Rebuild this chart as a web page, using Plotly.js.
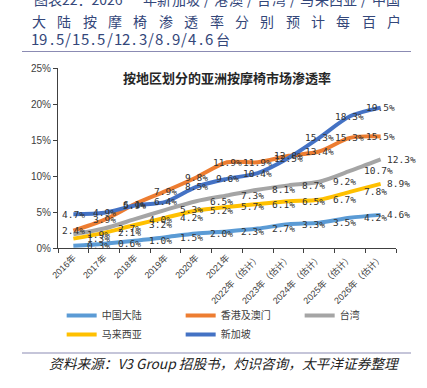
<!DOCTYPE html>
<html>
<head>
<meta charset="utf-8">
<script src="https://cdn.plot.ly/plotly-3.0.1.min.js"></script>
<style>html,body{margin:0;padding:0;background:#fff;}#chart{width:427px;height:388px;}</style>
</head>
<body>
<div id="chart"></div>
<script>
// ---- data ----
const categories = ['2016年','2017年','2018年','2019年','2020年','2021年',
  '2022年（估计）','2023年（估计）','2024年（估计）','2025年（估计）','2026年（估计）'];
const seriesNames = ['中国大陆','香港及澳门','台湾','马来西亚','新加坡'];
const mainland  = [0.3, 0.6, 1.0, 1.5, 2.0, 2.3, 2.7, 3.3, 3.5, 4.2, 4.6];
const hkMacau   = [2.4, 3.9, 6.1, 7.9, 9.8, 11.9, 11.9, 12.8, 13.4, 15.3, 15.5];
const taiwan    = [1.9, 2.7, 4.0, 5.3, 6.5, 7.3, 8.1, 8.7, 9.2, 10.7, 12.3];
const malaysia  = [1.3, 2.1, 3.2, 4.2, 5.2, 5.7, 6.1, 6.5, 6.7, 7.8, 8.9];
const singapore = [4.7, 4.9, 5.9, 6.4, 8.5, 9.6, 10.4, 12.5, 15.3, 18.3, 19.5];
const yTicks = [0, 5, 10, 15, 20, 25];

const chartTitle = '按地区划分的亚洲按摩椅市场渗透率';
const headLine1a = '图表22：2026';
const headLine1b = '年新加坡/港澳/台湾/马来西亚/中国';
const headLine2 = '大陆按摩椅渗透率分别预计每百户';
const headLine3 = '19.5/15.5/12.3/8.9/4.6';
const headLine3End = '台';
const sourceText = '资料来源：V3 Group 招股书，灼识咨询，太平洋证券整理';

// ---- styling ----
const colors = ['#5B9BD5', '#ED7D31', '#A5A5A5', '#FFC000', '#4472C4'];
const allSeries = [mainland, hkMacau, taiwan, malaysia, singapore];
const labelMode = ['right', 'center', 'right', 'right', 'center'];

const W = 427, H = 388;
const M = {l: 58, r: 31, t: 68, b: 140};
const PW = W - M.l - M.r, PH = H - M.t - M.b;
const px = x => (x - M.l) / PW;
const py = y => (H - M.b - y) / PH;

const traces = allSeries.map((vals, i) => ({
  type: 'scatter', mode: 'lines',
  x: categories, y: vals, name: seriesNames[i],
  line: {color: colors[i], width: 4, shape: 'spline', smoothing: 0.8},
  hoverinfo: 'skip'
}));

const annotations = [];
const labelFont = {family: 'DejaVu Sans Mono, monospace', size: 9.5, color: '#333333'};
allSeries.forEach((vals, i) => {
  vals.forEach((v, j) => {
    const a = {x: categories[j], y: v, xref: 'x', yref: 'y', text: v.toFixed(1) + '%',
      showarrow: false, font: labelFont, yanchor: 'middle'};
    if (labelMode[i] === 'right') {
      a.xanchor = 'left';
      a.xshift = (j === vals.length - 1) ? 4 : 12;
    } else {
      a.xanchor = 'center';
    }
    annotations.push(a);
  });
});

const headColor = '#34477a';
const headFont = {family: 'Noto Sans CJK SC', size: 14, color: headColor};
// line 1 (partly cut off at top)
annotations.push({xref: 'paper', yref: 'paper', x: px(32), y: py(-1), xanchor: 'left', yanchor: 'middle',
  text: headLine1a, showarrow: false, font: headFont});
Array.from(headLine1b).forEach((ch, k, arr) => {
  annotations.push({xref: 'paper', yref: 'paper', x: px(150 + k * (393 - 150) / (arr.length - 1)), y: py(-1),
    xanchor: 'center', yanchor: 'middle', text: ch, showarrow: false, font: headFont});
});
// line 2 justified
Array.from(headLine2).forEach((ch, k, arr) => {
  annotations.push({xref: 'paper', yref: 'paper', x: px(39 + k * (394 - 39) / (arr.length - 1)), y: py(21),
    xanchor: 'center', yanchor: 'middle', text: ch, showarrow: false, font: headFont});
});
// line 3
Array.from(headLine3).forEach((ch, k, arr) => {
  annotations.push({xref: 'paper', yref: 'paper', x: px(35 + k * (209 - 35) / (arr.length - 1)), y: py(39),
    xanchor: 'center', yanchor: 'middle', text: ch, showarrow: false,
    font: {family: 'Noto Sans CJK SC', size: 15, color: headColor}});
});
annotations.push({xref: 'paper', yref: 'paper', x: px(223), y: py(39), xanchor: 'center', yanchor: 'middle',
  text: headLine3End, showarrow: false, font: headFont});
// source
annotations.push({xref: 'paper', yref: 'paper', x: px(47), y: py(363), xanchor: 'left', yanchor: 'middle',
  text: sourceText, showarrow: false,
  font: {family: 'Noto Sans CJK SC', size: 13.7, color: '#222222', style: 'italic'}});

const shapes = [
  {type: 'line', xref: 'paper', yref: 'paper', x0: px(22), x1: px(411), y0: py(51.5), y1: py(51.5),
    line: {color: '#8b8bb3', width: 1.2}},
  {type: 'line', xref: 'paper', yref: 'paper', x0: px(22), x1: px(411), y0: py(353), y1: py(353),
    line: {color: '#8b8bb3', width: 1.2}}
];

const layout = {
  width: W, height: H,
  margin: M,
  paper_bgcolor: '#ffffff', plot_bgcolor: '#ffffff',
  showlegend: true,
  font: {family: 'Liberation Sans, Noto Sans CJK SC, sans-serif', color: '#404040'},
  title: {text: '<b>' + chartTitle + '</b>', x: 0.5, xref: 'paper', xanchor: 'center',
    y: 1 - 78 / H, yref: 'container', yanchor: 'middle',
    font: {family: 'Noto Sans CJK SC', size: 13, color: '#262626'}},
  xaxis: {
    type: 'category', range: [-0.5, categories.length - 0.5],
    showline: true, linecolor: '#404040', linewidth: 1,
    ticks: 'outside', tickson: 'boundaries', ticklen: 4, tickcolor: '#404040',
    tickangle: -45, showgrid: false, zeroline: false, automargin: false,
    tickfont: {family: 'Liberation Sans, Noto Sans CJK SC', size: 9, color: '#404040'}
  },
  yaxis: {
    range: [0, 25], tickvals: yTicks, ticktext: yTicks.map(v => v + '%'),
    showline: true, linecolor: '#404040', linewidth: 1,
    ticks: 'outside', ticklen: 4, tickcolor: '#404040',
    showgrid: false, zeroline: false, automargin: false,
    tickfont: {family: 'Liberation Sans, sans-serif', size: 10, color: '#404040'}
  },
  legend: {
    orientation: 'h', x: -0.001, xanchor: 'left', y: py(297), yanchor: 'top',
    entrywidth: 74, entrywidthmode: 'pixels',
    borderwidth: 4, bordercolor: 'rgba(0,0,0,0)',
    font: {family: 'Noto Sans CJK SC', size: 10, color: '#404040'},
    bgcolor: 'rgba(0,0,0,0)', itemclick: false, itemdoubleclick: false
  },
  annotations: annotations,
  shapes: shapes
};

Plotly.newPlot('chart', traces, layout, {staticPlot: true, displayModeBar: false});
</script>
</body>
</html>
